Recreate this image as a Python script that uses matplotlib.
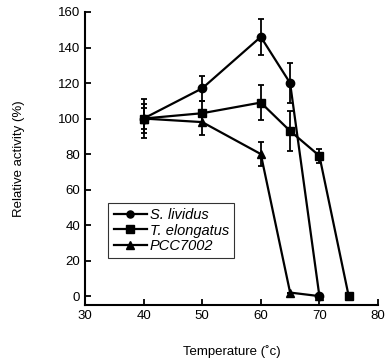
import matplotlib
matplotlib.use("Agg")
import matplotlib.pyplot as plt

plt.rcParams['font.family'] = ['Liberation Sans', 'DejaVu Sans']

temp_sl = [40, 50, 60, 65, 70]
act_sl = [100, 117, 146, 120, 0]
err_sl = [11, 7, 10, 11, 0]

temp_te = [40, 50, 60, 65, 70, 75]
act_te = [100, 103, 109, 93, 79, 0]
err_te = [8, 7, 10, 11, 4, 0]

temp_pcc = [40, 50, 60, 65, 70]
act_pcc = [100, 98, 80, 2, 0]
err_pcc = [6, 7, 7, 0, 0]

fig = plt.figure(figsize=(3.87, 3.61), dpi=100)
ax = fig.add_axes([85 / 387, 56 / 361, 293 / 387, 293 / 361])

style = dict(color='black', lw=1.6, ms=6, capsize=2.5, elinewidth=1.3, capthick=1.3)
ax.errorbar(temp_sl, act_sl, yerr=err_sl, marker='o', label='S. lividus', **style)
ax.errorbar(temp_te, act_te, yerr=err_te, marker='s', label='T. elongatus', **style)
ax.errorbar(temp_pcc, act_pcc, yerr=err_pcc, marker='^', label='PCC7002', **style)

ax.set_xlim(30, 80)
ax.set_ylim(-5, 160)
ax.set_xticks(range(30, 81, 10))
ax.set_yticks(range(0, 161, 20))
ax.spines['top'].set_visible(False)
ax.spines['right'].set_visible(False)
ax.spines['left'].set_linewidth(1.5)
ax.spines['bottom'].set_linewidth(1.5)
ax.tick_params(direction='in', length=4, width=1.3, labelsize=9.5)

ax.set_xlabel('Temperature (˚c)', fontsize=9.5, labelpad=17)
ax.set_ylabel('Relative activity (%)', fontsize=9.5, labelpad=24)

handles, labels = ax.get_legend_handles_labels()
handles = [h[0] for h in handles]
leg = ax.legend(handles, labels, loc='lower left', bbox_to_anchor=(0.055, 0.135),
                frameon=True, fancybox=False, handlelength=2.3, markerscale=0.85,
                handletextpad=0.2, borderpad=0.35, labelspacing=0.1,
                prop={'style': 'italic', 'size': 10.5})
leg.get_frame().set_edgecolor('black')
leg.get_frame().set_linewidth(0.8)

fig.savefig('out.png', dpi=100)
